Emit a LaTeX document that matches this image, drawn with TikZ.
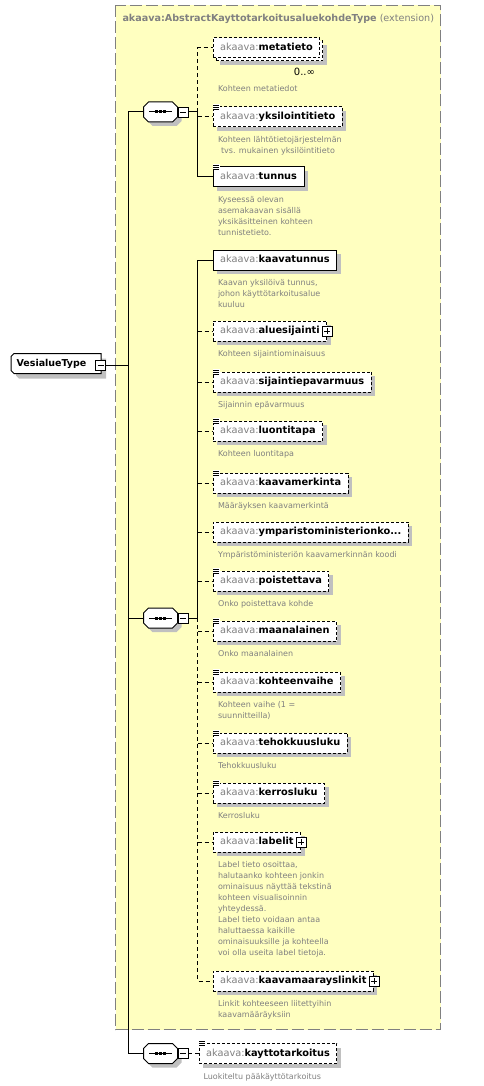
\documentclass[tikz,border=0pt]{standalone}
\usepackage{fontspec}
\setmainfont{DejaVu Sans}
\usetikzlibrary{shadows}
\definecolor{bgyellow}{RGB}{255,255,192}
\definecolor{shgray}{RGB}{192,192,192}
\definecolor{pfx}{RGB}{128,128,128}
\definecolor{desccol}{RGB}{128,128,128}
\definecolor{framecol}{RGB}{128,128,128}
\newcommand\pf{\textcolor{pfx}{akaava:}}
\newcommand\nm[1]{\pf\textbf{#1}}
\newcommand\elicon[1]{%
  \fill[white] ([xshift=0.2pt,yshift=2.3pt]#1.north west) rectangle ([xshift=7.6pt,yshift=-3.6pt]#1.north west);
  \foreach \d in {1.3,-0.7,-2.7}{\draw[line width=0.8pt] ([xshift=0.8pt,yshift=\d pt]#1.north west) -- ++(6,0);}}
\newcommand\plusbox[1]{%
  \node[smallbox] (#1p) at (#1.east) {};
  \draw[line width=0.8pt] ([xshift=-3pt]#1p.center) -- ([xshift=3pt]#1p.center) ([yshift=-3pt]#1p.center) -- ([yshift=3pt]#1p.center);}
\newcommand\seqsym[3]{%
  \begin{scope}[shift={(#2,#3)}]
  \fill[shgray] (-8,-6) -- (16,-6) -- (21,-1) -- (21,9) -- (16,14) -- (-8,14) -- (-13,9) -- (-13,-1) -- cycle;
  \draw[fill=white] (-12,-10) -- (12,-10) -- (17,-5) -- (17,5) -- (12,10) -- (-12,10) -- (-17,5) -- (-17,-5) -- cycle;
  \draw (-11.5,0) -- (11.5,0);
  \fill (-5.5,-1.5) rectangle (-2.5,1.5);
  \fill (-1.5,-1.5) rectangle (1.5,1.5);
  \fill (2.5,-1.5) rectangle (5.5,1.5);
  \node[minimum width=34pt, minimum height=20pt, inner sep=0pt, outer sep=0pt] (#1) at (0,0) {};
  \node[smallbox] (#1m) at (22.5,0) {};
  \draw[line width=0.8pt] ([xshift=-3pt]#1m.center) -- ([xshift=3pt]#1m.center);
  \end{scope}}
\begin{document}
\begin{tikzpicture}[x=1pt,y=-1pt,line width=1pt,
  elem/.style={draw, fill=white, anchor=west, minimum height=20pt, inner xsep=7pt, inner ysep=0pt,
    text height=7.5pt, text depth=2.5pt, font=\fontsize{9.8}{12}\selectfont},
  eshadow/.style={drop shadow={shadow xshift=4pt, shadow yshift=-4pt, fill=shgray, opacity=1, draw=none}},
  opt/.style={dash pattern=on 3pt off 2pt},
  descr/.style={anchor=north west, inner sep=0pt, align=left, text=desccol, font=\fontsize{8}{10.9}\selectfont},
  optconn/.style={dash pattern=on 4pt off 3pt},
  smallbox/.style={draw, fill=white, minimum size=10pt, inner sep=0pt, line width=0.8pt},
]
\useasboundingbox (0,0) rectangle (484,1086);
% extension frame
\draw[framecol, dash pattern=on 12pt off 4pt, fill=bgyellow] (115.5,5.5) rectangle (440.5,1029.5);
\node[anchor=west, inner sep=0pt, text=pfx, font=\fontsize{9.6}{11}\selectfont] (title) at (122,19)
  {\textbf{akaava:AbstractKayttotarkoitusaluekohdeType} (extension)};

% root
\fill[shgray] (19,358.5) -- (106,358.5) -- (106,378.5) -- (19,378.5) -- (16,375.5) -- (16,361.5) -- cycle;
\draw[fill=white] (14,353.5) -- (101,353.5) -- (101,373.5) -- (14,373.5) -- (11,370.5) -- (11,356.5) -- cycle;
\node[font=\fontsize{9.5}{11}\selectfont\bfseries, inner sep=0pt] (root) at (51.5,363.5) {VesialueType};
\node[smallbox] (rootm) at (100.7,365) {};
\draw[line width=0.8pt] ([xshift=-3pt]rootm.center) -- ([xshift=3pt]rootm.center);

% sequences
\seqsym{seqa}{160.5}{112}
\seqsym{seqb}{160.5}{618}
\seqsym{seqc}{160.5}{1053.5}

% group 1
\node[elem,opt,eshadow] (meta-back) at (215.5,51) {\phantom{\nm{metatieto}}};
\node[elem,opt] (meta) at (212.5,48) {\nm{metatieto}};
\node[anchor=east, inner sep=0pt, font=\fontsize{10}{12}\selectfont] (mult) at (315.5,72) {0..∞};
\node[descr] (d-meta) at (217.5,83.3) {\strut Kohteen metatiedot};

\node[elem,opt,eshadow] (yksi) at (212.5,117) {\nm{yksilointitieto}};
\elicon{yksi}
\node[descr] (d-yksi) at (217.5,134.3) {\strut Kohteen lähtötietojärjestelmän\\\hspace{3pt}tvs. mukainen yksilöintitieto};

\node[elem,eshadow] (tunnus) at (212.5,177) {\nm{tunnus}};
\elicon{tunnus}
\node[descr] (d-tunnus) at (217.5,194.3) {\strut Kyseessä olevan\\asemakaavan sisällä\\yksikäsitteinen kohteen\\tunnistetieto.};

% group 2
\node[elem,eshadow] (ktunnus) at (212.5,260) {\nm{kaavatunnus}};
\node[descr] (d-ktunnus) at (217.5,277.3) {\strut Kaavan yksilöivä tunnus,\\johon käyttötarkoitusalue\\kuuluu};

\node[elem,opt,eshadow] (alue) at (212.5,331) {\nm{aluesijainti}\hspace{6pt}};
\plusbox{alue}
\node[descr] (d-alue) at (217.5,348.3) {\strut Kohteen sijaintiominaisuus};

\node[elem,opt,eshadow] (sijep) at (212.5,382) {\nm{sijaintiepavarmuus}};
\elicon{sijep}
\node[descr] (d-sijep) at (217.5,399.3) {\strut Sijainnin epävarmuus};

\node[elem,opt,eshadow] (luonti) at (212.5,431) {\nm{luontitapa}};
\elicon{luonti}
\node[descr] (d-luonti) at (217.5,448.3) {\strut Kohteen luontitapa};

\node[elem,opt,eshadow] (kmerk) at (212.5,483) {\nm{kaavamerkinta}};
\elicon{kmerk}
\node[descr] (d-kmerk) at (217.5,500.3) {\strut Määräyksen kaavamerkintä};

\node[elem,opt,eshadow] (ymp) at (212.5,532) {\nm{ymparistoministerionko...}};
\node[descr] (d-ymp) at (217.5,549.3) {\strut Ympäristöministeriön kaavamerkinnän koodi};

\node[elem,opt,eshadow] (poist) at (212.5,581) {\nm{poistettava}};
\elicon{poist}
\node[descr] (d-poist) at (217.5,598.3) {\strut Onko poistettava kohde};

\node[elem,opt,eshadow] (maan) at (212.5,631) {\nm{maanalainen}};
\elicon{maan}
\node[descr] (d-maan) at (217.5,648.3) {\strut Onko maanalainen};

\node[elem,opt,eshadow] (vaihe) at (212.5,682) {\nm{kohteenvaihe}};
\elicon{vaihe}
\node[descr] (d-vaihe) at (217.5,699.3) {\strut Kohteen vaihe (1 =\\suunnitteilla)};

\node[elem,opt,eshadow] (tehok) at (212.5,743) {\nm{tehokkuusluku}};
\elicon{tehok}
\node[descr] (d-tehok) at (217.5,760.3) {\strut Tehokkuusluku};

\node[elem,opt,eshadow] (kerros) at (212.5,793) {\nm{kerrosluku}};
\elicon{kerros}
\node[descr] (d-kerros) at (217.5,810.3) {\strut Kerrosluku};

\node[elem,opt,eshadow] (labelit) at (212.5,842) {\nm{labelit}\hspace{6pt}};
\plusbox{labelit}
\node[descr, font=\fontsize{8}{11}\selectfont] (d-labelit) at (217.5,859.3) {\strut Label tieto osoittaa,\\halutaanko kohteen jonkin\\ominaisuus näyttää tekstinä\\kohteen visualisoinnin\\yhteydessä.\\Label tieto voidaan antaa\\haluttaessa kaikille\\ominaisuuksille ja kohteella\\voi olla useita label tietoja.};

\node[elem,opt,eshadow] (linkit) at (212.5,981) {\nm{kaavamaarayslinkit}\hspace{6pt}};
\plusbox{linkit}
\node[descr] (d-linkit) at (217.5,998.3) {\strut Linkit kohteeseen liitettyihin\\kaavamääräyksiin};

% group 3
\node[elem,opt,eshadow] (kaytto) at (198.5,1053.5) {\nm{kayttotarkoitus}};
\elicon{kaytto}
\node[descr] (d-kaytto) at (203,1071.3) {\strut Luokiteltu pääkäyttötarkoitus};

% connectors
\coordinate (mx) at (128,0);
\coordinate (bx) at (197.5,0);
\draw (rootm.east) -- (rootm.east -| mx);
\draw (seqa.west) -- (seqa.west -| mx) -- (seqc.west -| mx) -- (seqc.west);
\draw (seqb.west -| mx) -- (seqb.west);
% group 1 bus
\draw (seqam.east) -- (seqam.east -| bx) -- (tunnus.west -| bx) -- (tunnus.west);
\draw[optconn] (seqam.east -| bx) -- (meta.west -| bx) -- (meta.west);
\draw[optconn] (yksi.west -| bx) -- (yksi.west);
% group 2 bus
\draw (seqbm.east) -- (seqbm.east -| bx) -- (ktunnus.west -| bx) -- (ktunnus.west);
\draw[optconn] (seqbm.east -| bx) -- (linkit.west -| bx) -- (linkit.west);
\foreach \n in {alue,sijep,luonti,kmerk,ymp,poist,maan,vaihe,tehok,kerros,labelit}{
  \draw[optconn] (\n.west -| bx) -- (\n.west);}
% group 3
\draw[optconn] (seqcm.east) -- (kaytto.west);
\end{tikzpicture}
\end{document}
